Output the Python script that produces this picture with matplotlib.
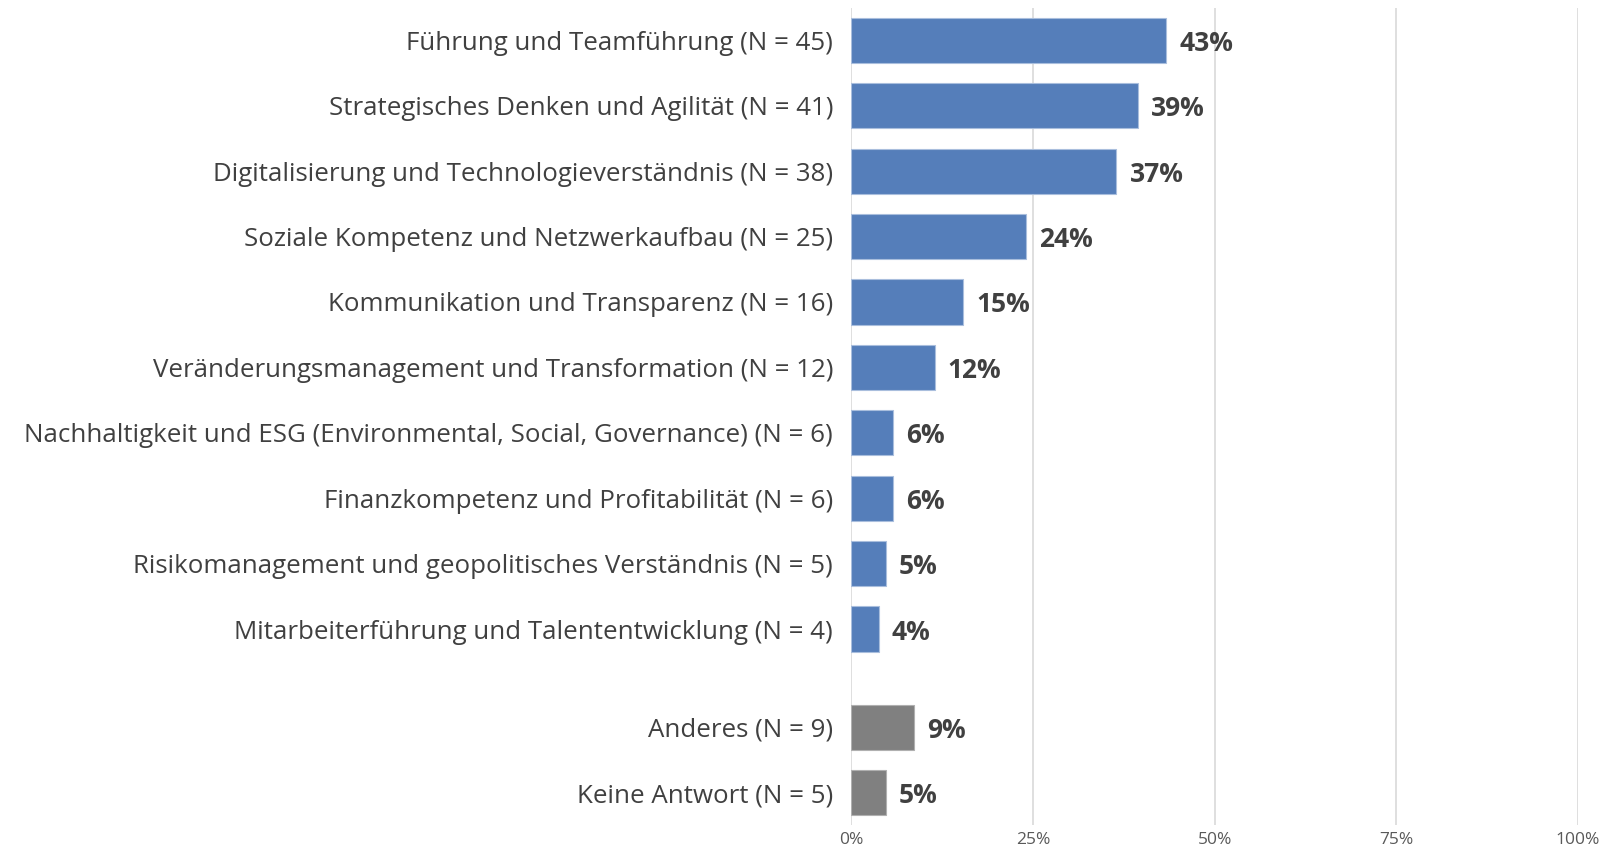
import matplotlib
matplotlib.use("Agg")
import matplotlib.pyplot as plt
from matplotlib.ticker import FuncFormatter

categories = [
    "Führung und Teamführung (N = 45)",
    "Strategisches Denken und Agilität (N = 41)",
    "Digitalisierung und Technologieverständnis (N = 38)",
    "Soziale Kompetenz und Netzwerkaufbau (N = 25)",
    "Kommunikation und Transparenz (N = 16)",
    "Veränderungsmanagement und Transformation (N = 12)",
    "Nachhaltigkeit und ESG (Environmental, Social, Governance) (N = 6)",
    "Finanzkompetenz und Profitabilität (N = 6)",
    "Risikomanagement und geopolitisches Verständnis (N = 5)",
    "Mitarbeiterführung und Talententwicklung (N = 4)",
    "Anderes (N = 9)",
    "Keine Antwort (N = 5)",
]
values = [43.3, 39.4, 36.5, 24.0, 15.4, 11.5, 5.8, 5.8, 4.8, 3.8, 8.7, 4.8]
value_labels = ["43%", "39%", "37%", "24%", "15%", "12%", "6%", "6%", "5%", "4%", "9%", "5%"]
groups = ["main"] * 10 + ["other"] * 2
positions = [0, 1, 2, 3, 4, 5, 6, 7, 8, 9, 10.5, 11.5]
xticks = [0, 25, 50, 75, 100]

plt.rcParams["font.family"] = ["Open Sans", "DejaVu Sans"]

colors = {"main": "#557EBA", "other": "#808080"}
text_color = "#404040"

fig = plt.figure(figsize=(16.09, 8.49), dpi=100)
ax = fig.add_axes([0.529, 0.0280, 0.4518, 0.963])

bar_colors = [colors[g] for g in groups]
ax.barh(positions, values, height=0.69, color=bar_colors,
        edgecolor="#A9BEDD", linewidth=0.8, zorder=3)
for bar, g in zip(ax.patches, groups):
    if g == "other":
        bar.set_edgecolor("#B0B0B0")

for p, v, lab in zip(positions, values, value_labels):
    ax.text(v + 1.8, p, lab, va="center_baseline", ha="left", fontsize=19,
            fontweight="bold", color=text_color)

ax.set_yticks(positions)
ax.set_yticklabels(categories, fontsize=18.6, color=text_color)
ax.set_xlim(0, 100)
ax.set_ylim(12.0, -0.5)
ax.set_xticks(xticks)
ax.xaxis.set_major_formatter(FuncFormatter(lambda x, _: f"{int(x)}%"))
ax.tick_params(axis="x", labelsize=12.5, colors="#595959", length=0, pad=5)
ax.tick_params(axis="y", length=0, pad=13)
ax.grid(axis="x", color="#D9D9D9", linewidth=1.2, zorder=0)
for s in ax.spines.values():
    s.set_visible(False)

fig.savefig("out.png", dpi=100, facecolor="white")
